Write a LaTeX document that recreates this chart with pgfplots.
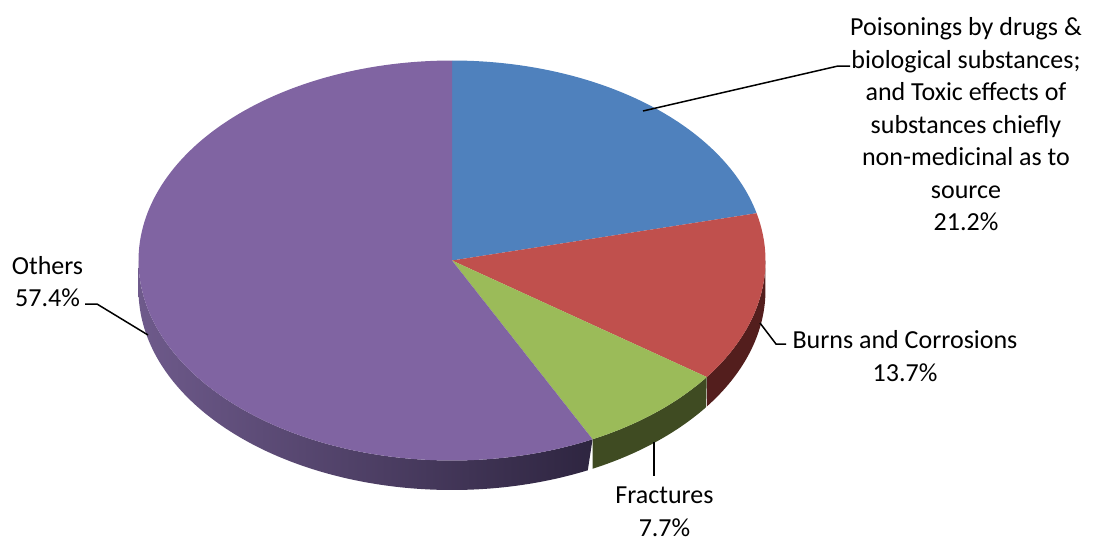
\documentclass[border=0pt]{standalone}
\usepackage{fontspec}
\setmainfont{Carlito}
\usepackage{pgfplots}
\pgfplotsset{compat=1.18}
\definecolor{cBlue}{HTML}{4F81BD}
\definecolor{cRed}{HTML}{C0504D}
\definecolor{cGreen}{HTML}{9BBB59}
\definecolor{cPurple}{HTML}{8064A2}
\definecolor{wRed}{HTML}{531E1D}
\definecolor{wGreen}{HTML}{3F4B22}
\definecolor{wPurpleL}{HTML}{6E5A8B}
\definecolor{wPurpleM}{HTML}{4A3A60}
\definecolor{wPurpleR}{HTML}{2E2540}
\newcommand\wall[3]{\addplot[draw=none,#3,domain=0:2,samples=241,variable=\s]
  ({\cx+\rx*cos(#1+(#2-#1)*(1-abs(1-\s)))},{\cy-\ry*sin(#1+(#2-#1)*(1-abs(1-\s)))+\dep*(\s>1)});}
\newcommand\slice[3]{\addplot[draw=none,fill=#3,domain=#1:#2,samples=150,variable=\t]
  ({\cx+\rx*cos(\t)},{\cy-\ry*sin(\t)}) -- (axis cs:\cx,\cy) -- cycle;}
\begin{document}
\begin{tikzpicture}
% shares in percent
\def\pA{21.2}% Poisonings
\def\pB{13.7}% Burns and Corrosions
\def\pC{7.7}%  Fractures
\def\pD{57.4}% Others
\def\cx{452}\def\cy{260.5}\def\rx{313.5}\def\ry{200}\def\dep{29.5}
\pgfmathsetmacro\aA{90}
\pgfmathsetmacro\aB{\aA-3.6*\pA}
\pgfmathsetmacro\aC{\aB-3.6*\pB}
\pgfmathsetmacro\aD{\aC-3.6*\pC}
\pgfmathsetmacro\aE{\aD-3.6*\pD}
\begin{axis}[scale only axis, width=546.5pt, height=271pt,
  xmin=0, xmax=1093, ymin=0, ymax=542, y dir=reverse,
  hide axis, clip=false]
\path (axis cs:0,0) rectangle (axis cs:1093,542);
% side walls
\wall{\aC}{0}{fill=wRed}
\wall{\aD}{\aC}{fill=wGreen}
\wall{-180}{\aD}{left color=wPurpleL, middle color=wPurpleM, right color=wPurpleR}
% top faces
\slice{\aB}{\aA}{cBlue}
\slice{\aC}{\aB}{cRed}
\slice{\aD}{\aC}{cGreen}
\slice{\aE}{\aD}{cPurple}
% leader lines
\addplot[black, line width=0.75pt, mark=none] coordinates {(643,111) (838,66) (850,66)};
\addplot[black, line width=0.75pt, mark=none] coordinates {(760,323) (776,344) (786,344)};
\addplot[black, line width=0.75pt, mark=none] coordinates {(654,442) (654,476)};
\addplot[black, line width=0.75pt, mark=none] coordinates {(85,304) (97,304) (148,335)};
% labels
\node[align=center, font=\fontsize{13}{16.25}\selectfont, inner sep=0pt] at (axis cs:966,124.5)
  {Poisonings by drugs \&\\biological substances;\\and Toxic effects of\\substances chiefly\\non-medicinal as to\\source\\21.2\%};
\node[align=center, font=\fontsize{13}{16.25}\selectfont, inner sep=0pt] at (axis cs:905,356)
  {Burns and Corrosions\\13.7\%};
\node[align=center, font=\fontsize{13}{16.25}\selectfont, inner sep=0pt] at (axis cs:664.5,512)
  {Fractures\\7.7\%};
\node[align=center, font=\fontsize{13}{16.25}\selectfont, inner sep=0pt] at (axis cs:47.5,281.5)
  {Others\\57.4\%};
\end{axis}
\end{tikzpicture}
\end{document}
